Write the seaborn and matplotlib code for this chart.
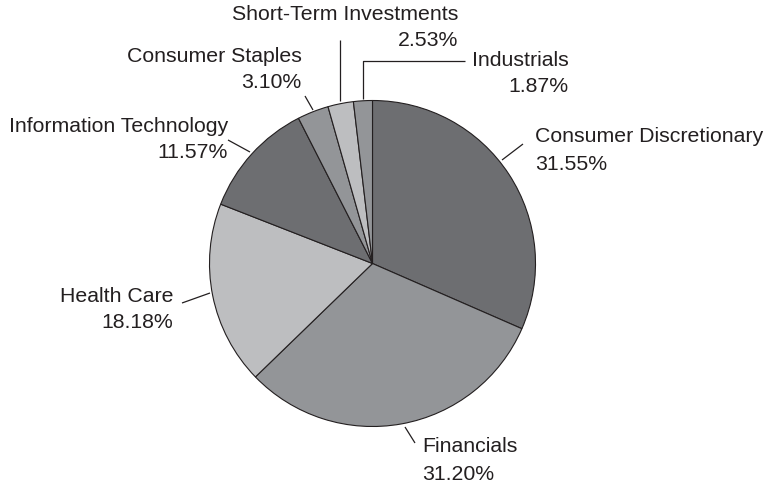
import matplotlib
matplotlib.use("Agg")
import matplotlib.pyplot as plt
import seaborn as sns

sns.set_theme(style="white")
plt.rcParams['font.family'] = ['Liberation Sans', 'DejaVu Sans']

# ---- data ----
categories = ["Consumer Discretionary", "Financials", "Health Care",
              "Information Technology", "Consumer Staples",
              "Short-Term Investments", "Industrials"]
values = [31.55, 31.20, 18.18, 11.57, 3.10, 2.53, 1.87]
pct_labels = ["31.55%", "31.20%", "18.18%", "11.57%", "3.10%", "2.53%", "1.87%"]

DARK, MID, LIGHT = "#6d6e71", "#939598", "#bdbec0"
colors = [DARK, MID, LIGHT, DARK, MID, LIGHT, MID]
TXT = "#231f20"
FS = 15.3

W, H = 769, 487
fig = plt.figure(figsize=(W / 100, H / 100), dpi=100)
ax = fig.add_axes([0, 0, 1, 1])

def P(x, y):
    return x, H - y

cx, cy = P(372.5, 263.5)
ax.pie(values, colors=colors, startangle=90, counterclock=False,
       center=(cx, cy), radius=163, frame=True,
       wedgeprops=dict(edgecolor="#231f20", linewidth=0.8))
ax.set_xlim(0, W)
ax.set_ylim(0, H)
ax.set_aspect("equal")
ax.axis("off")

# label layout: (line1 x, line1 y, line2 x, line2 y, ha1, ha2) in pixel coords
layout = {
    "Consumer Discretionary": (535, 137, 535, 164, "left", "left"),
    "Financials": (422, 447, 422, 474, "left", "left"),
    "Health Care": (173, 297, 173, 323, "right", "right"),
    "Information Technology": (228, 126, 228, 152, "right", "right"),
    "Consumer Staples": (302, 56, 301, 82, "right", "right"),
    "Short-Term Investments": (458, 15, 458, 41, "right", "right"),
    "Industrials": (472, 60, 568, 86, "left", "right"),
}
leaders = {
    "Consumer Discretionary": [(502, 160), (523, 144)],
    "Financials": [(405, 427), (415, 443)],
    "Health Care": [(210, 293), (182, 303)],
    "Information Technology": [(250, 152), (228, 140)],
    "Consumer Staples": [(313, 110), (305, 96)],
    "Short-Term Investments": [(340, 101), (340, 40)],
    "Industrials": [(363, 99), (363, 61), (465, 61)],
}

for cat, pct in zip(categories, pct_labels):
    x1, y1, x2, y2, ha1, ha2 = layout[cat]
    ax.text(*P(x1, y1), cat, ha=ha1, va="center", fontsize=FS, color=TXT)
    ax.text(*P(x2, y2), pct, ha=ha2, va="center", fontsize=FS, color=TXT)
    pts = [P(x, y) for x, y in leaders[cat]]
    ax.plot([p[0] for p in pts], [p[1] for p in pts], color=TXT, lw=0.9,
            solid_capstyle="butt")

fig.savefig("out.png", dpi=100)
